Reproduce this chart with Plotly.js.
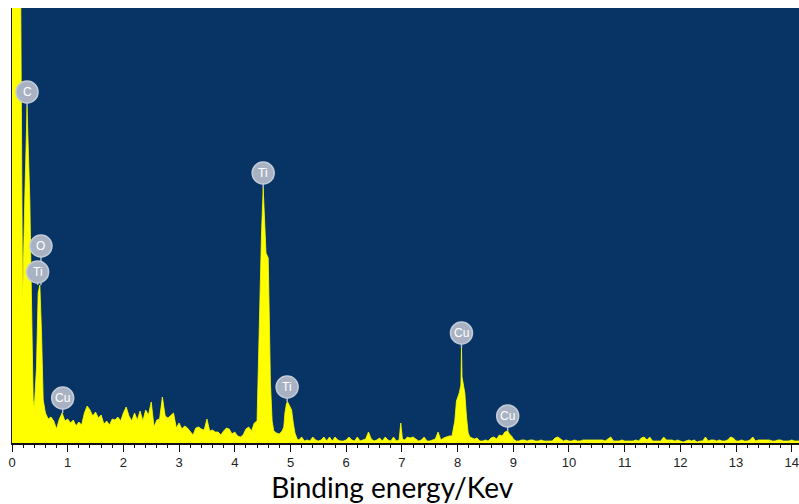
<!DOCTYPE html>
<html><head><meta charset="utf-8">
<script src="https://cdn.plot.ly/plotly-3.0.1.min.js"></script>
<style>html,body{margin:0;padding:0;background:#fff}#chart{width:799px;height:504px}</style>
</head><body><div id="chart"></div>
<script>
// Spectrum energies (keV) and counts (arbitrary units)
const energyKeV = [
 0, 0.05, 0.10, 0.14, 0.17, 0.19, 0.23, 0.27, 0.32, 0.36, 0.38, 0.40, 0.44, 0.47, 0.50, 0.53, 0.56,
 0.60, 0.65, 0.70, 0.75, 0.80, 0.85, 0.90, 0.95, 1.00, 1.05, 1.10, 1.15, 1.20, 1.25, 1.30, 1.35, 1.40, 1.45, 1.50, 1.55,
 1.60, 1.65, 1.70, 1.75, 1.80, 1.85, 1.90, 1.95, 2.00, 2.05, 2.10, 2.15, 2.20, 2.25, 2.30, 2.35, 2.40, 2.45, 2.50, 2.55,
 2.60, 2.65, 2.70, 2.75, 2.80, 2.85, 2.90, 2.95, 3.00, 3.05, 3.10, 3.15, 3.20, 3.25, 3.30, 3.35, 3.40, 3.45, 3.50, 3.55,
 3.60, 3.65, 3.70, 3.75, 3.80, 3.85, 3.90, 3.95, 4.00, 4.05, 4.10, 4.15, 4.20, 4.25, 4.30, 4.35, 4.40,
 4.42, 4.45, 4.48, 4.51, 4.53, 4.56, 4.60, 4.62, 4.64, 4.67, 4.70, 4.75, 4.80, 4.85, 4.88, 4.90, 4.93, 4.95, 4.98, 5.02, 5.05, 5.08, 5.12,
 5.15, 5.20, 5.25, 5.30, 5.35, 5.40, 5.45, 5.50, 5.55, 5.60, 5.65, 5.70, 5.75, 5.80, 5.85, 5.90, 5.95, 6.00, 6.05, 6.10,
 6.15, 6.20, 6.25, 6.30, 6.35, 6.40, 6.45, 6.50, 6.55, 6.60, 6.65, 6.70, 6.75, 6.80, 6.85, 6.90, 6.95, 6.98, 7.01, 7.05,
 7.10, 7.15, 7.20, 7.25, 7.30, 7.35, 7.40, 7.45, 7.50, 7.55, 7.60, 7.65, 7.70, 7.75, 7.80, 7.85, 7.90,
 7.95, 7.98, 8.03, 8.06, 8.07, 8.08, 8.10, 8.13, 8.16, 8.19, 8.22, 8.25,
 8.30, 8.35, 8.40, 8.45, 8.50, 8.55, 8.60, 8.65, 8.70, 8.75, 8.80, 8.85, 8.90, 8.93, 8.97, 9.00, 9.05,
 9.10, 9.15, 9.20, 9.25, 9.30, 9.35, 9.40, 9.45, 9.50, 9.55, 9.60, 9.65, 9.70, 9.75, 9.80, 9.85, 9.90, 9.95, 10.00, 10.05,
 10.10, 10.15, 10.20, 10.25, 10.30, 10.35, 10.40, 10.45, 10.50, 10.55, 10.60, 10.65, 10.70, 10.75, 10.80, 10.85, 10.90, 10.95, 11.00, 11.05,
 11.10, 11.15, 11.20, 11.25, 11.30, 11.35, 11.40, 11.45, 11.50, 11.55, 11.60, 11.65, 11.70, 11.75, 11.80, 11.85, 11.90, 11.95, 12.00, 12.05,
 12.10, 12.15, 12.20, 12.25, 12.30, 12.35, 12.40, 12.45, 12.50, 12.55, 12.60, 12.65, 12.70, 12.75, 12.80, 12.85, 12.90, 12.95, 13.00, 13.05,
 13.10, 13.15, 13.20, 13.25, 13.30, 13.35, 13.40, 13.45, 13.50, 13.55, 13.60, 13.65, 13.70, 13.75, 13.80, 13.85, 13.90, 13.95, 14.00, 14.05,
 14.10, 14.15
];
const counts = [
 700, 700, 700, 600, 250, 138, 245, 336, 243, 100, 43, 35, 76, 150, 158, 110, 43,
 30, 24, 26, 22, 14, 24, 30, 22, 24, 20, 23, 17, 21, 18, 30, 37, 33, 27, 31, 25,
 28, 19, 22, 18, 24, 23, 26, 22, 30, 36, 27, 22, 30, 23, 32, 22, 33, 28, 41, 16,
 23, 24, 46, 27, 25, 28, 30, 15, 20, 14, 17, 15, 12, 8, 15, 16, 14, 13, 24, 12,
 13, 11, 11, 8, 12, 15, 14, 9, 11, 7, 6, 8, 14, 16, 12, 20, 22,
 76, 143, 210, 255, 225, 190, 185, 120, 60, 22, 12, 10, 9, 12, 16, 30, 40, 41, 38, 33, 20, 10, 4,
 3, 6, 2, 3, 2, 6, 3, 2, 3, 6, 2, 6, 2, 6, 3, 2, 2, 3, 6, 3,
 2, 6, 2, 3, 4, 11, 4, 2, 3, 5, 2, 6, 3, 2, 6, 2, 3, 20, 4, 3,
 6, 5, 6, 4, 2, 3, 6, 2, 2, 3, 4, 11, 3, 5, 6, 7, 7,
 22, 42, 50, 58, 95, 66, 60, 50, 26, 10, 6, 5,
 4, 5, 2, 2, 3, 2, 5, 6, 4, 8, 7, 11, 12, 9, 7, 4, 2,
 2, 3, 3, 2, 3, 3, 2, 2, 3, 2, 2, 2, 2, 5, 6, 4, 2, 3, 2, 2,
 3, 2, 2, 3, 3, 3, 3, 3, 3, 3, 3, 2, 4, 6, 2, 2, 2, 3, 2, 2,
 2, 2, 3, 2, 5, 6, 3, 6, 2, 2, 2, 2, 6, 3, 3, 3, 2, 3, 2, 1,
 2, 3, 2, 3, 1, 2, 2, 6, 2, 3, 3, 2, 3, 2, 2, 3, 6, 5, 2, 2,
 3, 2, 2, 3, 6, 2, 3, 3, 3, 3, 3, 2, 2, 3, 3, 2, 2, 2, 3, 2,
 2, 2
];
// Peak identification labels
const peakLabels = ['C', 'O', 'Ti', 'Cu', 'Ti', 'Ti', 'Cu', 'Cu'];
const peakEnergy = [0.27, 0.52, 0.46, 0.91, 4.51, 4.94, 8.07, 8.90];
const peakCounts = [336, 158, 158, 30, 255, 41, 95, 12];
// Axis ticks
const xTickValues = [0, 1, 2, 3, 4, 5, 6, 7, 8, 9, 10, 11, 12, 13, 14];
const xTickLabels = ['0', '1', '2', '3', '4', '5', '6', '7', '8', '9', '10', '11', '12', '13', '14'];
const xAxisTitle = 'Binding energy/Kev';

// ---- styling / rendering ----
const labelLiftPx = [15, 39, 13, 15, 15, 15, 15, 15];
const R = 11;
const stems = [], circles = [], notes = [];
peakLabels.forEach((t, i) => {
  const lift = labelLiftPx[i];
  stems.push({type: 'line', xref: 'x', yref: 'y', xsizemode: 'pixel', ysizemode: 'pixel',
    xanchor: peakEnergy[i], yanchor: peakCounts[i], x0: 0, x1: 0, y0: 0, y1: lift - R + 1,
    line: {color: '#b3bccb', width: 1.5}, layer: 'above'});
  circles.push({type: 'circle', xref: 'x', yref: 'y', xsizemode: 'pixel', ysizemode: 'pixel',
    xanchor: peakEnergy[i], yanchor: peakCounts[i], x0: -R, x1: R, y0: lift - R, y1: lift + R,
    fillcolor: '#a8b2c3', line: {color: '#c3cbd8', width: 1.5}, layer: 'above'});
  notes.push({x: peakEnergy[i], y: peakCounts[i], xref: 'x', yref: 'y', text: t, showarrow: false,
    yshift: lift, font: {family: 'Liberation Sans, Arial, sans-serif', size: 12, color: '#ffffff'}});
});

const trace = {
  type: 'scatter', mode: 'lines', x: energyKeV, y: counts,
  fill: 'tozeroy', fillcolor: '#ffff00',
  line: {color: '#ffff00', width: 0.8, shape: 'linear'},
  hoverinfo: 'x+y'
};

const layout = {
  width: 799, height: 504,
  margin: {l: 12, r: 0, t: 8, b: 61},
  paper_bgcolor: '#ffffff', plot_bgcolor: '#083465',
  showlegend: false,
  title: {text: xAxisTitle, font: {family: 'Lato, sans-serif', size: 28, color: '#000'},
    xref: 'paper', x: 0.483, xanchor: 'center', yref: 'container', y: 0.031, yanchor: 'middle'},
  xaxis: {
    range: [0, 14.13], tickmode: 'array', tickvals: xTickValues, ticktext: xTickLabels,
    ticks: 'outside', ticklen: 7, tickwidth: 1, tickcolor: '#111',
    minor: {tick0: 0, dtick: 0.2, ticks: 'outside', ticklen: 3, tickwidth: 1, tickcolor: '#111', showgrid: false},
    showline: true, linecolor: '#111', linewidth: 1.5,
    showgrid: false, zeroline: false,
    tickfont: {family: 'Liberation Sans, Arial, sans-serif', size: 13, color: '#222'}
  },
  yaxis: {
    range: [0, 435], showticklabels: false, ticks: '', showgrid: false, zeroline: false,
    showline: true, linecolor: '#1b2233', linewidth: 1.5
  },
  shapes: stems.concat(circles),
  annotations: notes
};

Plotly.newPlot('chart', [trace], layout, {displayModeBar: false, staticPlot: true});
</script>
</body></html>
